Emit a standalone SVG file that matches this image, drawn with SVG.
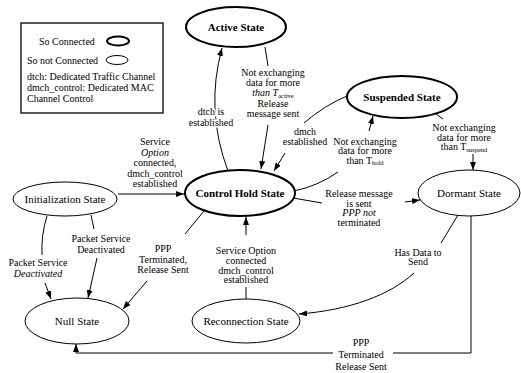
<svg xmlns="http://www.w3.org/2000/svg" width="521" height="373" viewBox="0 0 521 373">
<defs>
<style>
text{font-family:"Liberation Serif","Times New Roman",serif;font-size:10px;fill:#000}
.m{text-anchor:middle}
.nl{font-size:11px;text-anchor:middle}
.b{font-weight:bold}
.i{font-style:italic}
.sub{font-size:6.5px}
ellipse{fill:#fff;stroke:#000}
.sc{stroke-width:2}
.nc{stroke-width:1}
.c{fill:none;stroke:#000;stroke-width:1}
</style>
<marker id="arr" viewBox="0 0 8 6" refX="8" refY="3" markerWidth="8" markerHeight="6" markerUnits="userSpaceOnUse" orient="auto"><path d="M0,0 L8,3 L0,6 z" fill="#000"/></marker>
</defs>
<rect width="521" height="373" fill="#fff"/>

<g id="legend">
<rect x="21" y="23" width="142" height="90" fill="#fff" stroke="#000" stroke-width="1.3"/>
<text x="39" y="44.5">So Connected</text>
<ellipse class="sc" cx="118" cy="41" rx="11" ry="4.5"/>
<text x="27" y="63.5">So not Connected</text>
<ellipse class="nc" cx="117" cy="60" rx="11" ry="4.5"/>
<text x="27" y="79.5">dtch: Dedicated Traffic Channel</text>
<text x="27" y="90.5">dmch_control: Dedicated MAC</text>
<text x="27" y="101.5">Channel Control</text>
</g>

<g id="connectors">
<g id="c-dtch">
<path class="c" d="M228 171 Q205 110 222 48" marker-end="url(#arr)"/>
<text class="m" x="211" y="114.5" stroke="#fff" stroke-width="3" paint-order="stroke">dtch is</text>
<text class="m" x="211" y="125.5" stroke="#fff" stroke-width="3" paint-order="stroke">established</text>
</g>
<g id="c-tactive">
<path class="c" d="M265 47 L268 66"/>
<path class="c" d="M268 125 L261 169" marker-end="url(#arr)"/>
<text class="m" x="273" y="76">Not exchanging</text>
<text class="m" x="273" y="86">data for more</text>
<text class="m" x="273" y="96"><tspan class="i">than T</tspan><tspan class="sub" dy="1.5">active</tspan></text>
<text class="m" x="273" y="107">Release</text>
<text class="m" x="273" y="117">message sent</text>
</g>
<g id="c-dmch">
<path class="c" d="M347 96 Q325 105 304 123"/>
<path class="c" d="M285 153 L274 171" marker-end="url(#arr)"/>
<text class="m" x="305" y="134.5">dmch</text>
<text class="m" x="305" y="144.5">established</text>
</g>
<g id="c-thold">
<path class="c" d="M294 191 Q318 186 338 172"/>
<path class="c" d="M369 131 L373 116" marker-end="url(#arr)"/>
<text class="m" x="365" y="144.5">Not exchanging</text>
<text class="m" x="365" y="154">data for more</text>
<text class="m" x="365" y="163.5">than T<tspan class="sub" dy="1.5">hold</tspan></text>
</g>
<g id="c-tsuspend">
<path class="c" d="M436 114 L443 119"/>
<path class="c" d="M473 154 L473 170" marker-end="url(#arr)"/>
<text class="m" x="464" y="131">Not exchanging</text>
<text class="m" x="464" y="140.5">data for more</text>
<text class="m" x="464" y="150">than T<tspan class="sub" dy="1.5">suspend</tspan></text>
</g>
<g id="c-release">
<path class="c" d="M293 198 L322 203"/>
<path class="c" d="M405 202 L420 200" marker-end="url(#arr)"/>
<text class="m" x="359" y="197">Release message</text>
<text class="m" x="359" y="206.5">is sent</text>
<text class="m i" x="359" y="216">PPP not</text>
<text class="m" x="359" y="225.5">terminated</text>
</g>
<g id="c-hasdata">
<path class="c" d="M458 215 L441 243"/>
<path class="c" d="M414 273 C390 295 350 310 299 314" marker-end="url(#arr)"/>
<text class="m" x="418" y="255.5">Has Data to</text>
<text class="m" x="418" y="265">Send</text>
</g>
<g id="c-pppdormant">
<path class="c" d="M471 216 V353 H393"/>
<path class="c" d="M333 353 H76 V344" marker-end="url(#arr)"/>
<text class="m" x="361" y="346">PPP</text>
<text class="m" x="361" y="358">Terminated</text>
<text class="m" x="361" y="370">Release Sent</text>
</g>
<g id="c-reconnect">
<path class="c" d="M246 299 L246 287"/>
<path class="c" d="M246 235 L246 217" marker-end="url(#arr)"/>
<text class="m" x="246" y="253.5">Service Option</text>
<text class="m" x="246" y="263.5">connected</text>
<text class="m" x="246" y="273.5">dmch_control</text>
<text class="m" x="246" y="283">established</text>
</g>
<g id="c-pppcontrol">
<path class="c" d="M204 211 L185 234"/>
<path class="c" d="M147 281 L123 309" marker-end="url(#arr)"/>
<text class="m" x="163" y="251.5">PPP</text>
<text class="m" x="163" y="262.5">Terminated,</text>
<text class="m" x="163" y="272.5">Release Sent</text>
</g>
<g id="c-init">
<path class="c" d="M118 194 L184 194" marker-end="url(#arr)"/>
<text class="m" x="155" y="144.5">Service</text>
<text class="m i" x="155" y="155.5">Option</text>
<text class="m" x="155" y="166">connected,</text>
<text class="m" x="155" y="176.5">dmch_control</text>
<text class="m" x="155" y="186.5">established</text>
</g>
<g id="c-deact1">
<path class="c" d="M47 216 Q41 235 42 255"/>
<path class="c" d="M45 283 L51 299" marker-end="url(#arr)"/>
<text class="m" x="38" y="266">Packet Service</text>
<text class="m i" x="38" y="277">Deactivated</text>
</g>
<g id="c-deact2">
<path class="c" d="M91 215 L94 229"/>
<path class="c" d="M97 258 L88 298" marker-end="url(#arr)"/>
<text class="m" x="101" y="241.5">Packet Service</text>
<text class="m" x="101" y="252.5">Deactivated</text>
</g>
</g>

<g id="active">
<ellipse class="sc" cx="236" cy="27" rx="50" ry="20"/>
<text class="nl b" x="236" y="31">Active State</text>
</g>
<g id="suspended">
<ellipse class="sc" cx="402" cy="97" rx="55" ry="21"/>
<text class="nl b" x="402" y="101">Suspended State</text>
</g>
<g id="controlhold">
<ellipse class="sc" cx="240" cy="193" rx="55" ry="23"/>
<text class="nl b" x="240" y="197">Control Hold State</text>
</g>
<g id="dormant">
<ellipse class="nc" cx="469" cy="193" rx="51" ry="23"/>
<text class="nl" x="469" y="197">Dormant State</text>
</g>
<g id="initialization">
<ellipse class="nc" cx="65" cy="199" rx="52" ry="17"/>
<text class="nl" x="65" y="203">Initialization State</text>
</g>
<g id="null">
<ellipse class="nc" cx="77" cy="321" rx="52" ry="23"/>
<text class="nl" x="77" y="325">Null State</text>
</g>
<g id="reconnection">
<ellipse class="nc" cx="246" cy="321" rx="54" ry="22"/>
<text class="nl" x="246" y="325">Reconnection State</text>
</g>
</svg>
